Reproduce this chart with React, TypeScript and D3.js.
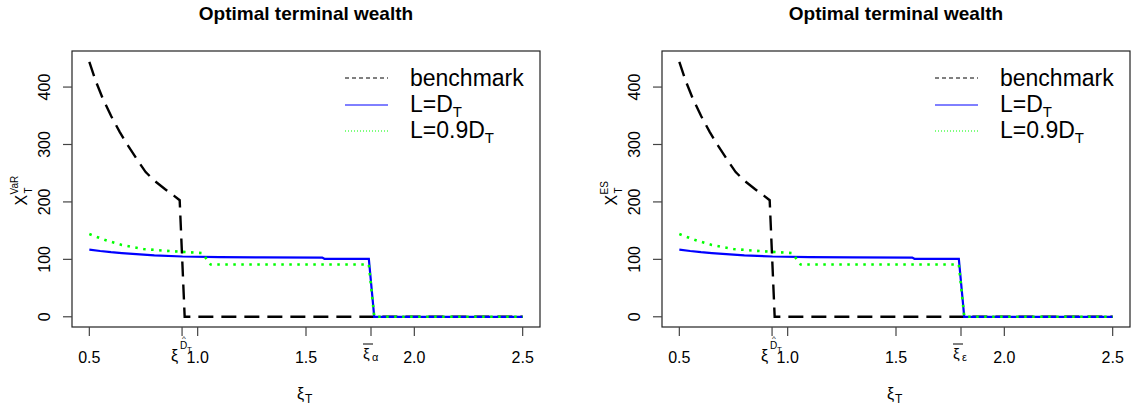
import React from "react";
import * as d3 from "d3";

// ---- data ----
const benchX = [0.5, 0.53, 0.56, 0.6, 0.64, 0.68, 0.72, 0.76, 0.8, 0.85, 0.89, 0.917, 0.94, 2.5];
const benchY = [444, 410, 382, 350, 322, 297, 274, 252, 237, 222, 211, 203, 0, 0];

const blueX = [0.5, 0.55, 0.6, 0.65, 0.7, 0.8, 0.93, 1.1, 1.3, 1.575, 1.585, 1.79, 1.815, 2.5];
const blueY = [117, 114.5, 112.5, 111, 109.5, 107, 105, 104, 103.5, 103, 101, 101, 0, 0];

const greenX = [0.5, 0.57, 0.65, 0.75, 0.85, 0.93, 1.02, 1.06, 1.79, 1.815, 2.5];
const greenY = [144, 134, 125, 118, 115, 113, 111, 91, 91, 0, 0];

const xTicks = [0.5, 1.0, 1.5, 2.0, 2.5];
const yTicks = [0, 100, 200, 300, 400];
const xiD = 0.928; // ξ^{D_T}
const xiBar = 1.8; // ξ̄

const legendLabels = ["benchmark", "L=D", "L=0.9D"];

const panels = [
  { dx: 0, sup: "VaR", sub: "α" },
  { dx: 590, sup: "ES", sub: "ε" },
];

const FONT = "Liberation Sans, Arial, sans-serif";

function Panel({ dx, sup, sub }: { dx: number; sup: string; sub: string }) {
  const left = 72, right = 540, top = 51, bottom = 327;
  const x = d3.scaleLinear().domain([0.42, 2.58]).range([left, right]);
  const y = d3.scaleLinear().domain([-17.8, 462.8]).range([bottom, top]);
  const line = d3
    .line<[number, number]>()
    .x((d) => x(d[0]))
    .y((d) => y(d[1]));
  const bench = line(benchX.map((v, i) => [v, benchY[i]]) as [number, number][]) || "";
  const blue = line(blueX.map((v, i) => [v, blueY[i]]) as [number, number][]) || "";
  const green = line(greenX.map((v, i) => [v, greenY[i]]) as [number, number][]) || "";
  const cx = (left + right) / 2;
  const tickCol = "#444";
  const lx1 = 345, lx2 = 388, ltx = 410;
  const lys = [78, 105, 131];
  return (
    <g transform={`translate(${dx},0)`} fontFamily={FONT}>
      <text x={cx} y={20} textAnchor="middle" fontWeight="bold" fontSize={19}>
        Optimal terminal wealth
      </text>
      {/* lines */}
      <path d={bench} fill="none" stroke="#000" strokeWidth={2.4} strokeDasharray="15 8" />
      <path d={blue} fill="none" stroke="#0000ff" strokeWidth={2.2} />
      <path d={green} fill="none" stroke="#00ff00" strokeWidth={2.6} strokeDasharray="2.5 5.5" />
      {/* box */}
      <rect x={left} y={top} width={right - left} height={bottom - top} fill="none" stroke="#222" strokeWidth={1.2} />
      {/* x ticks */}
      {[...xTicks, xiD, xiBar].map((t) => (
        <line key={"xt" + t} x1={x(t)} x2={x(t)} y1={bottom} y2={bottom + 9} stroke={tickCol} strokeWidth={1.2} />
      ))}
      {xTicks.map((t) => (
        <text key={"xl" + t} x={x(t)} y={363} textAnchor="middle" fontSize={16}>
          {d3.format(".1f")(t)}
        </text>
      ))}
      {/* special tick labels */}
      <g transform={`translate(${x(xiD)},0)`}>
        <text x={-11} y={361} fontSize={16}>ξ</text>
        <text x={-2} y={349} fontSize={10}>D</text>
        <text x={5} y={352} fontSize={8}>T</text>
        <text x={0} y={341} fontSize={8}>^</text>
      </g>
      <g transform={`translate(${x(xiBar)},0)`}>
        <line x1={-8} x2={2} y1={344} y2={344} stroke="#000" strokeWidth={1} />
        <text x={-8} y={359} fontSize={15}>ξ</text>
        <text x={1} y={361} fontSize={11}>{sub}</text>
      </g>
      {/* y ticks */}
      {yTicks.map((t) => (
        <g key={"yt" + t}>
          <line x1={left - 9} x2={left} y1={y(t)} y2={y(t)} stroke={tickCol} strokeWidth={1.2} />
          <text transform={`translate(50,${y(t)}) rotate(-90)`} textAnchor="middle" fontSize={16}>
            {t}
          </text>
        </g>
      ))}
      {/* axis titles */}
      <g transform={`translate(${cx},0)`}>
        <text x={-9} y={399} fontSize={16}>ξ</text>
        <text x={-1} y={403} fontSize={12}>T</text>
      </g>
      <g transform={`translate(27,188.5) rotate(-90)`}>
        <text x={-17} y={0} fontSize={16}>X</text>
        <text x={-5} y={5} fontSize={10}>T</text>
        <text x={-6} y={-9} fontSize={10}>{sup}</text>
      </g>
      {/* legend */}
      <line x1={lx1} x2={lx2} y1={lys[0]} y2={lys[0]} stroke="#000" strokeWidth={1} strokeDasharray="4 3" />
      <line x1={lx1} x2={lx2} y1={lys[1]} y2={lys[1]} stroke="#0000ff" strokeWidth={1} />
      <line x1={lx1} x2={lx2} y1={lys[2]} y2={lys[2]} stroke="#00ff00" strokeWidth={1.2} strokeDasharray="1 2" />
      <text x={ltx} y={86} fontSize={23}>{legendLabels[0]}</text>
      <text x={ltx} y={112} fontSize={23}>
        {legendLabels[1]}
        <tspan fontSize={15} dy={5}>T</tspan>
      </text>
      <text x={ltx} y={138} fontSize={23}>
        {legendLabels[2]}
        <tspan fontSize={15} dy={5}>T</tspan>
      </text>
    </g>
  );
}

export default function App() {
  return (
    <svg width={1135} height={410} style={{ position: "absolute", left: 0, top: 0, background: "#fff" }}>
      <rect x={0} y={0} width={1135} height={410} fill="#fff" />
      {panels.map((p) => (
        <Panel key={p.sup} dx={p.dx} sup={p.sup} sub={p.sub} />
      ))}
    </svg>
  );
}
